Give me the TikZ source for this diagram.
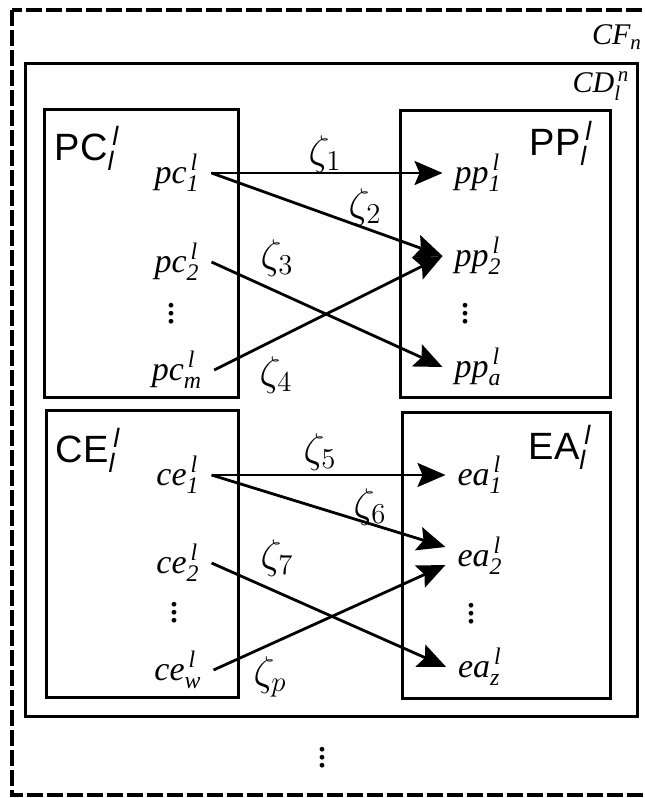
\documentclass[tikz,border=0pt]{standalone}
\usepackage{amsmath}
\usepackage{fontspec}
\setmainfont{Liberation Serif}
\setsansfont{Liberation Sans}
\usetikzlibrary{arrows.meta}

\newcommand{\itm}[2]{$\textit{#1}^{\,\textit{l}}_{\textit{#2}}$}
\newcommand{\grp}[1]{$\textsf{#1}^{\,\textit{l}}_{\textit{l}}$}

\tikzset{
  box/.style={draw, line width=1.5pt},
  item/.style={font=\fontsize{17}{19}\selectfont, inner sep=2pt, outer sep=4pt},
  dotcol/.style={font=\fontsize{20}{22}\selectfont\boldmath, inner sep=0pt},
  zlab/.style={font=\fontsize{20}{22}\selectfont},
  grouplab/.style={font=\sffamily\fontsize{19}{21}\selectfont},
  link/.style={-{Stealth[length=14pt,width=12pt,inset=2.5pt]}, line width=1.4pt},
}

\begin{document}
\begin{tikzpicture}[x=0.5pt, y=-0.5pt]
    \useasboundingbox (0,0) rectangle (644,798);

    % CF_n (dashed frame)
    \draw[line width=2.2pt, dash pattern=on 8pt off 2pt] (12,10) rectangle (652,795);
    \node[font=\fontsize{15}{17}\selectfont] (cf) at (617,37) {$\textit{CF}_{\textit{n}}$};
    \node[dotcol] (more) at (322,752) {$\vdots$};

    % CD_l^n
    \draw[box] (25,63) rectangle (637,716);
    \node[font=\fontsize{15}{17}\selectfont] (cd) at (601,86) {$\textit{CD}^{\,\textit{n}}_{\textit{l}}$};

    % PC
    \draw[box] (44,109) rectangle (238,397);
    \node[grouplab] (pc) at (87,148) {\grp{PC}};
    \node[item] (pc1) at (177,173) {\itm{pc}{1}};
    \node[item] (pc2) at (177,262) {\itm{pc}{2}};
    \node[dotcol] (pcd) at (171,308) {$\vdots$};
    \node[item] (pcm) at (177,370) {\itm{pc}{m}};

    % PP
    \draw[box] (400,110) rectangle (610,397);
    \node[grouplab] (pp) at (561,143) {\grp{PP}};
    \node[item] (pp1) at (478,173) {\itm{pp}{1}};
    \node[item] (pp2) at (478,256) {\itm{pp}{2}};
    \node[dotcol] (ppd) at (465,308) {$\vdots$};
    \node[item] (ppa) at (478,367) {\itm{pp}{a}};

    % CE
    \draw[box] (46,410) rectangle (238,697);
    \node[grouplab] (ce) at (88,450) {\grp{CE}};
    \node[item] (ce1) at (178,475) {\itm{ce}{1}};
    \node[item] (ce2) at (178,563) {\itm{ce}{2}};
    \node[dotcol] (ced) at (174,607) {$\vdots$};
    \node[item] (cew) at (178,670) {\itm{ce}{w}};

    % EA
    \draw[box] (402,412) rectangle (610,698);
    \node[grouplab] (ea) at (560,447) {\grp{EA}};
    \node[item] (ea1) at (480,475) {\itm{ea}{1}};
    \node[item] (ea2) at (480,556) {\itm{ea}{2}};
    \node[dotcol] (ead) at (471,608) {$\vdots$};
    \node[item] (eaz) at (480,667) {\itm{ea}{z}};

    % Verbindungen oben
    \draw[link] (pc1.east) -- (pp1.west);
    \draw[link] (pc1.east) -- (pp2.west);
    \draw[link] (pc2.east) -- (ppa.west);
    \draw[link] (pcm.east) -- (pp2.west);
    \node[zlab] (z1) at (325,154) {$\zeta_1$};
    \node[zlab] (z2) at (365,207) {$\zeta_2$};
    \node[zlab] (z3) at (277,258) {$\zeta_3$};
    \node[zlab] (z4) at (276,375) {$\zeta_4$};

    % Verbindungen unten
    \draw[link] (ce1.east) -- (ea1.west);
    \draw[link] (ce1.east) -- ([yshift=4.5pt]ea2.west);
    \draw[link] (ce2.east) -- (eaz.west);
    \draw[link] (cew.east) -- ([yshift=-4.5pt]ea2.west);
    \node[zlab] (z5) at (320,452) {$\zeta_5$};
    \node[zlab] (z6) at (370,507) {$\zeta_6$};
    \node[zlab] (z7) at (277,558) {$\zeta_7$};
    \node[zlab] (zp) at (270,677) {$\zeta_p$};
\end{tikzpicture}
\end{document}
